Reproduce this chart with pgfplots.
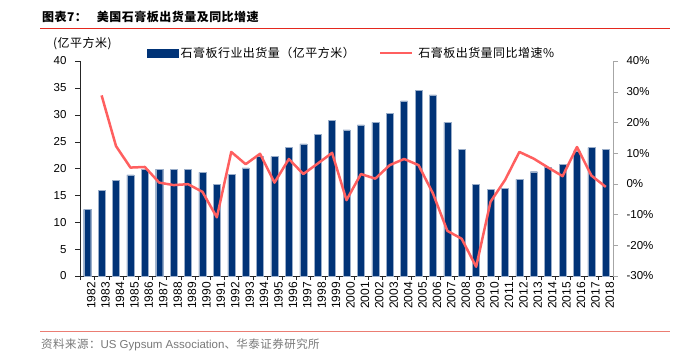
\documentclass[border=0pt]{standalone}
\usepackage{pgfplots}
\pgfplotsset{compat=1.18}
\usepackage{fontspec}
\setmainfont{Liberation Sans}
\newfontfamily\cjk[LetterSpace=4]{Noto Sans CJK SC}
\definecolor{navy}{RGB}{0,51,119}
\definecolor{lred}{RGB}{255,95,95}
\definecolor{titlered}{RGB}{228,40,30}
\definecolor{srcred}{RGB}{235,125,115}
\definecolor{srcgray}{RGB}{120,120,120}

\pgfplotstableread{
x y
0 12.4
1 15.9
2 17.8
3 18.8
4 19.8
5 19.9
6 19.8
7 19.8
8 19.3
9 17.1
10 18.9
11 20.1
12 22.2
13 22.2
14 23.9
15 24.6
16 26.3
17 28.9
18 27.2
19 28.1
20 28.6
21 30.3
22 32.6
23 34.6
24 33.7
25 28.6
26 23.5
27 17.1
28 16.1
29 16.3
30 18.0
31 19.4
32 20.2
33 20.8
34 23.3
35 23.9
36 23.6
}\bars

\pgfplotstableread{
x y
1 28.8
2 12.3
3 5.3
4 5.5
5 0.4
6 -0.4
7 -0.1
8 -2.6
9 -10.9
10 10.4
11 6.4
12 9.8
13 0.4
14 8.1
15 3.2
16 6.6
17 10.1
18 -5.3
19 3.2
20 1.7
21 6.1
22 8.1
23 6.1
24 -3.1
25 -15.3
26 -17.9
27 -27.0
28 -5.8
29 1.2
30 10.4
31 8.2
32 5.3
33 2.5
34 12.0
35 2.7
36 -1.0
}\growth

\begin{document}
\begin{tikzpicture}[x=1pt,y=1pt]
\path[use as bounding box] (0,0) rectangle (675,351);
% title
\node[anchor=base west, inner sep=0] at (42,329) {\cjk\bfseries\fontsize{12}{12}\selectfont 图表7：\hspace{10pt}美国石膏板出货量及同比增速};
\draw[titlered, line width=1pt] (40,322.7) -- (670,322.7);
% unit label
\node[anchor=west, inner sep=0] at (53,307) {\cjk\fontsize{12}{12}\selectfont (亿平方米)};
% source
\draw[srcred, line width=0.8pt] (40,20) -- (670,20);
\node[anchor=base west, inner sep=0, text=srcgray] at (41,3) {\fontsize{11.5}{12}\selectfont{\cjk 资料来源：}US Gypsum Association{\cjk 、华泰证券研究所}};

\begin{axis}[
  at={(80pt,75pt)}, anchor=south west,
  width=533pt, height=215pt, scale only axis,
  xmin=-0.5, xmax=36.5, ymin=0, ymax=40,
  axis y line*=left, axis x line*=bottom,
  axis line style={black!85},
  ytick={0,5,...,40},
  xtick={0,...,36},
  xticklabels={1982,1983,1984,1985,1986,1987,1988,1989,1990,1991,1992,1993,1994,1995,1996,1997,1998,1999,2000,2001,2002,2003,2004,2005,2006,2007,2008,2009,2010,2011,2012,2013,2014,2015,2016,2017,2018},
  minor xtick={-0.5,0.5,...,36.5},
  major x tick style={draw=none},
  minor x tick style={black!85},
  minor tick length=4pt,
  major tick length=5pt,
  tick align=outside,
  xtick align=outside,
  ytick align=outside,
  y tick style={black!85},
  /pgf/number format/assume math mode=true,
  tick label style={font=\fontsize{11.5}{12}\selectfont},
  yticklabel style={xshift=-5pt},
  xticklabel style={rotate=90, anchor=east, font=\fontsize{12}{12}\selectfont, inner sep=1pt, yshift=-4pt},
  legend style={draw=none, fill=none, inner sep=0pt, at={(0.1257,1.037)}, anchor=west,
    font=\cjk\fontsize{12}{12}\selectfont,
    /tikz/every even column/.append style={column sep=22pt}},
  legend columns=2,
  legend cell align=left,
]
\addplot[ybar, bar width=7pt, fill=navy, draw=navy!40!white, line width=0.4pt,
  legend image code/.code={\fill[navy] (0pt,-4pt) rectangle (31pt,4pt);}] table[x=x,y=y] {\bars};
\addlegendentry{石膏板行业出货量（亿平方米）}
\addlegendimage{legend image code/.code={\draw[lred, line width=2.5pt] (0pt,0pt) -- (32pt,0pt);}}
\addlegendentry{\hspace{3pt}石膏板出货量同比增速\%}
\end{axis}

\begin{axis}[
  at={(80pt,75pt)}, anchor=south west,
  width=533pt, height=215pt, scale only axis,
  xmin=-0.5, xmax=36.5, ymin=-30, ymax=40,
  axis y line*=right, axis x line=none,
  axis line style={black!35},
  y tick style={black!35},
  ytick={-30,-20,...,40},
  yticklabel={\pgfmathprintnumber{\tick}\%},
  major tick length=5pt,
  ytick align=outside,
  /pgf/number format/assume math mode=true,
  tick label style={font=\fontsize{11.5}{12}\selectfont},
  yticklabel style={xshift=5pt},
]
\addplot[lred, line width=2.5pt, line join=round, mark=none] table[x=x,y=y] {\growth};
\end{axis}
\end{tikzpicture}
\end{document}
